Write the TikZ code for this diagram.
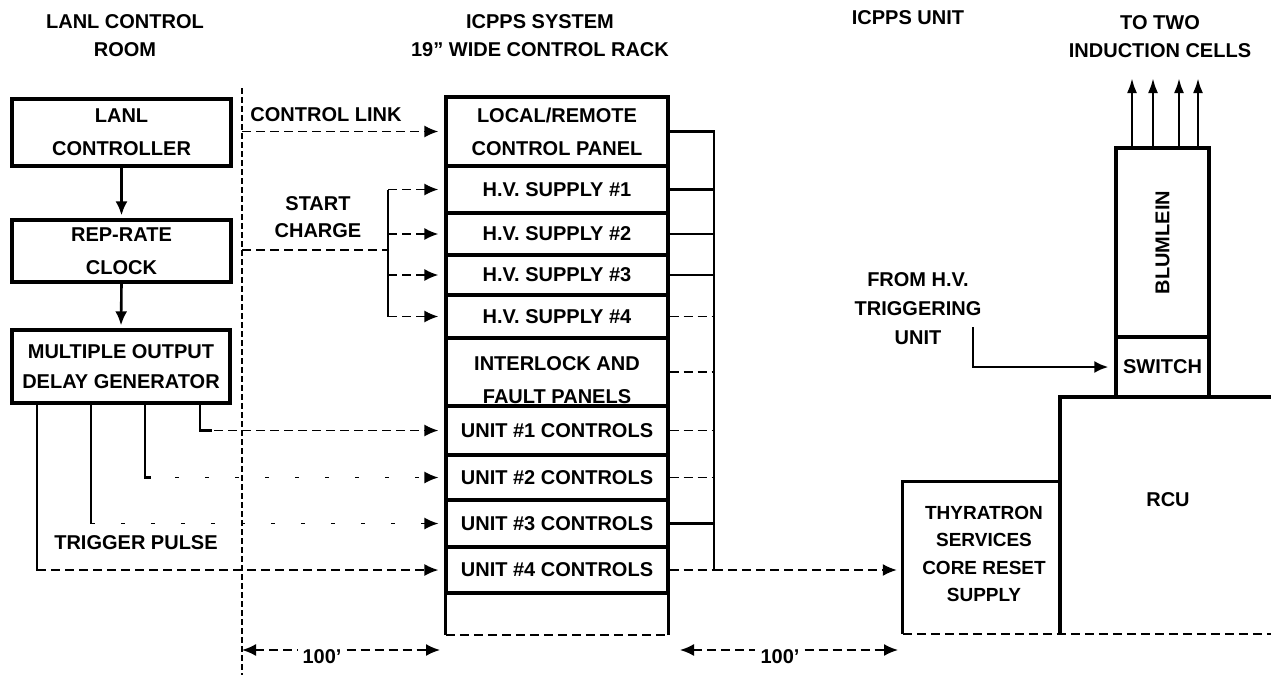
\documentclass[tikz,border=0pt]{standalone}
\usepackage{fontspec}
\setmainfont{Liberation Sans}
\usetikzlibrary{arrows.meta}
\begin{document}
\begin{tikzpicture}[x=1pt,y=-1pt,
  every node/.style={font=\fontsize{20}{33}\selectfont\bfseries, inner sep=0pt, align=center},
  title/.style={font=\fontsize{20}{28}\selectfont\bfseries},
  box/.style={draw, line width=3.2pt},
  row/.style={box, minimum width=222pt},
  boxline/.style={line width=3.2pt},
  conn/.style={line width=2.6pt},
  dconn/.style={line width=1.8pt, dash pattern=on 9pt off 5pt},
  sparse/.style={line width=1.6pt, dash pattern=on 4pt off 26pt},
  tip/.style={Latex[length=14pt,width=12pt]},
  arr/.style={-{Latex[length=14pt,width=12pt]}, shorten >=6pt},
  arrl/.style={{Latex[length=14pt,width=12pt]}-},
  sepline/.style={line width=2.4pt, dash pattern=on 6pt off 3pt},
]
\fill[white] (0,0) rectangle (1271,675);
\useasboundingbox (0,0) rectangle (1271,675);

% titles
\node[title] (t1) at (125,36) {LANL CONTROL\\ROOM};
\node[title] (t2) at (540,36) {ICPPS SYSTEM\\19" WIDE CONTROL RACK};
\node[title] (t3) at (908,18) {ICPPS UNIT};
\node[title] (t4) at (1160,37) {TO TWO\\INDUCTION CELLS};

% left column
\node[box, minimum width=219pt, minimum height=67pt] (ctrl) at (121.5,132.5) {LANL\\CONTROLLER};
\node[box, minimum width=219pt, minimum height=62pt] (clock) at (121.5,251) {REP-RATE\\CLOCK};
\node[box, minimum width=218pt, minimum height=73pt, font=\fontsize{20}{30}\selectfont\bfseries] (delay) at (121,366.5) {MULTIPLE OUTPUT\\DELAY GENERATOR};
\draw[conn, -{Latex[length=14pt,width=12pt]}, shorten >=3pt] (ctrl.south) -- (clock.north);
\draw[conn, -{Latex[length=14pt,width=12pt]}, shorten >=3pt] (clock.south) -- (delay.north);

% separator
\coordinate (s1) at (242,88);
\coordinate (s2) at (242,675);
\draw[sepline] (s1) -- (s2);

% rack
\node[row, minimum height=69pt] (r0) at (557,131.5) {LOCAL/REMOTE\\CONTROL PANEL};
\node[row, minimum height=47pt] (r1) at (557,189.5) {H.V. SUPPLY \#1};
\node[row, minimum height=42pt] (r2) at (557,234) {H.V. SUPPLY \#2};
\node[row, minimum height=40pt] (r3) at (557,275) {H.V. SUPPLY \#3};
\node[row, minimum height=43pt] (r4) at (557,316.5) {H.V. SUPPLY \#4};
\node[row, minimum height=68pt] (r5) at (557,372) {};
\node (r5t) at (557,380) {INTERLOCK AND\\FAULT PANELS};
\node[row, minimum height=49pt] (r6) at (557,430.5) {UNIT \#1 CONTROLS};
\node[row, minimum height=45pt] (r7) at (557,477.5) {UNIT \#2 CONTROLS};
\node[row, minimum height=47pt] (r8) at (557,523.5) {UNIT \#3 CONTROLS};
\node[row, minimum height=46pt] (r9) at (557,570) {UNIT \#4 CONTROLS};
\node[minimum width=222pt, minimum height=42pt] (r10) at (557,614) {};
\draw[boxline] (r10.south west) -- (r10.north west) -- (r10.north east) -- (r10.south east);
\draw[dconn] (r10.south west) -- (r10.south east);

% control link
\node (cltext) at (326,115) {CONTROL LINK};
\draw[dconn, arr] (s1 |- r0.west) -- (r0.west);

% start charge
\node[font=\fontsize{20}{27}\selectfont\bfseries] (sctext) at (318,217) {START\\CHARGE};
\coordinate (scs) at (242,250);
\coordinate (brk) at (388,250);
\draw[dconn] (scs) -- (brk);
\draw[conn] (brk |- r1.west) -- (brk |- r4.west);
\foreach \r in {r1,r2,r3,r4} \draw[dconn, arr] (brk |- \r.west) -- (\r.west);

% delay generator outputs
\coordinate (o1) at (37,0);
\coordinate (o2) at (91,0);
\coordinate (o3) at (145,0);
\coordinate (o4) at (200,0);
\draw[conn] (delay.south -| o4) -- (o4 |- r6.west) -- ++(12,0);
\draw[dconn, arr] (o4 |- r6.west) -- (r6.west);
\draw[conn] (delay.south -| o3) -- (o3 |- r7.west) -- ++(6,0);
\draw[sparse, arr] (o3 |- r7.west) -- (r7.west);
\draw[conn] (delay.south -| o2) -- (o2 |- r8.west);
\draw[sparse, arr] (o2 |- r8.west) -- (r8.west);
\draw[conn] (delay.south -| o1) -- (o1 |- r9.west) -- ++(8,0);
\draw[dconn, arr] (o1 |- r9.west) -- (r9.west);
\node (tp) at (136,543) {TRIGGER PULSE};

% right bus
\coordinate (bx) at (714,0);
\draw[conn] (r0.east) -- (bx |- r0.east) -- (bx |- r9.east);
\foreach \r in {r1,r2,r3,r8} \draw[conn] (\r.east) -- (bx |- \r.east);
\foreach \r in {r4,r5,r6,r7,r9} \draw[dconn] (\r.east) -- (bx |- \r.east);

% ICPPS unit
\node[minimum width=157pt, minimum height=152pt] (thy) at (981.5,558) {};
\node[font=\fontsize{19}{27.5}\selectfont\bfseries] (thyt) at (984,554) {THYRATRON\\SERVICES\\CORE RESET\\SUPPLY};
\coordinate (rcutl) at (1060,397);
\coordinate (rcutr) at (1271,397);
\node (rcu) at (1168,500) {RCU};
\draw[boxline] (thy.south west) -- (thy.north west) -- (thy.north east);
\draw[boxline] (rcutr) -- (rcutl) -- (rcutl |- thy.south);
\draw[dconn] (thy.south west) -- (rcutr |- thy.south);
\draw[dconn, arr] (bx |- r9.east) -- (thy.west |- r9.east);

\node[box, minimum width=93pt, minimum height=189pt] (bl) at (1162.5,242.5) {};
\node[rotate=90] (blt) at (bl.center) {BLUMLEIN};
\node[box, minimum width=93pt, minimum height=60pt] (sw) at (1162.5,367) {SWITCH};
\foreach \x [count=\i] in {1132,1153,1179,1198} {
  \coordinate (u\i) at (\x,78);
  \draw[conn, -{Latex[length=15pt,width=10pt]}] (bl.north -| u\i) -- (u\i);
}

\node[font=\fontsize{20}{29}\selectfont\bfseries] (fhv) at (918,309) {FROM H.V.\\TRIGGERING\\UNIT};
\coordinate (fh1) at (973,327);
\draw[conn, arr] (fh1) |- (sw.west);

% dimensions
\node[inner sep=5pt] (d1) at (322,657) {100'};
\coordinate (dl1) at (242,650);
\coordinate (dl2) at (440,650);
\draw[dconn, arrl] (dl1) -- (d1.west |- dl1);
\draw[dconn, -{Latex[length=14pt,width=12pt]}] (d1.east |- dl2) -- (dl2);
\node[inner sep=5pt] (d2) at (780,657) {100'};
\coordinate (dr1) at (680,650);
\coordinate (dr2) at (898,650);
\draw[dconn, arrl] (dr1) -- (d2.west |- dr1);
\draw[dconn, -{Latex[length=14pt,width=12pt]}] (d2.east |- dr2) -- (dr2);
\end{tikzpicture}
\end{document}
